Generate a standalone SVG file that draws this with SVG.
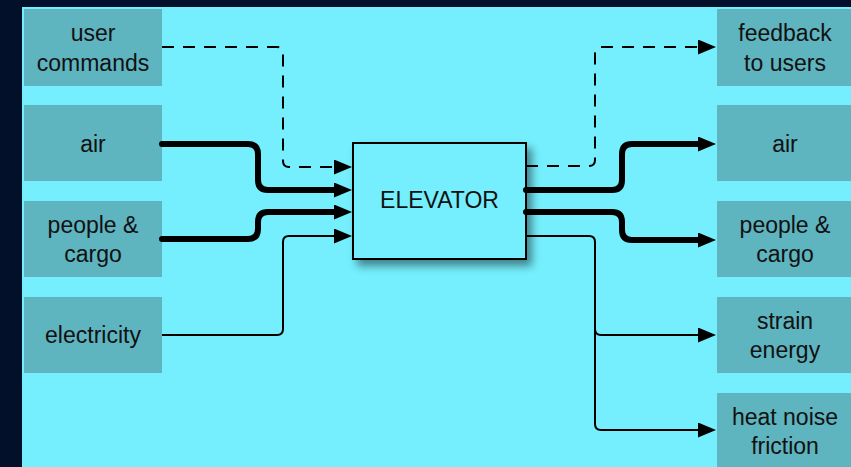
<svg xmlns="http://www.w3.org/2000/svg" width="851" height="467" viewBox="0 0 851 467">
<style>
.bx{fill:#5eb4bf}
.t{font-family:"Liberation Sans",Arial,sans-serif;font-size:23px;fill:#111;text-anchor:middle}
.c{fill:none;stroke:#000}
.thick{stroke-width:6;stroke-linecap:round}
.thin{stroke-width:2}
.dash{stroke-width:2;stroke-dasharray:12 9}
</style>
<defs>
<marker id="ah" markerUnits="userSpaceOnUse" markerWidth="18" markerHeight="15" refX="0" refY="7.5" orient="auto">
<path d="M0,0 L18,7.5 L0,15 z" fill="#000"/>
</marker>
<filter id="sh" x="-20%" y="-20%" width="140%" height="150%">
<feDropShadow dx="5" dy="6" stdDeviation="4" flood-color="#000" flood-opacity="0.45"/>
</filter>
</defs>
<rect width="851" height="467" fill="#021029"/>
<rect x="22" y="7" width="829" height="460" fill="#75effd"/>

<g id="in-user"><rect class="bx" x="24" y="9" width="138" height="77"/><text class="t" x="93" y="41">user</text><text class="t" x="93" y="71">commands</text></g>
<g id="in-air"><rect class="bx" x="24" y="105" width="138" height="76"/><text class="t" x="93" y="152">air</text></g>
<g id="in-people"><rect class="bx" x="24" y="201" width="138" height="76"/><text class="t" x="93" y="233">people &amp;</text><text class="t" x="93" y="262">cargo</text></g>
<g id="in-elec"><rect class="bx" x="24" y="297" width="138" height="76"/><text class="t" x="93" y="343">electricity</text></g>

<g id="out-feedback"><rect class="bx" x="717" y="9" width="134" height="77"/><text class="t" x="785" y="41">feedback</text><text class="t" x="785" y="71">to users</text></g>
<g id="out-air"><rect class="bx" x="717" y="105" width="134" height="76"/><text class="t" x="785" y="152">air</text></g>
<g id="out-people"><rect class="bx" x="717" y="201" width="134" height="76"/><text class="t" x="785" y="233">people &amp;</text><text class="t" x="785" y="262">cargo</text></g>
<g id="out-strain"><rect class="bx" x="717" y="297" width="134" height="76"/><text class="t" x="785" y="329">strain</text><text class="t" x="785" y="358">energy</text></g>
<g id="out-heat"><rect class="bx" x="717" y="393" width="134" height="80"/><text class="t" x="785" y="425">heat noise</text><text class="t" x="785" y="454">friction</text></g>

<g id="elevator"><rect x="353" y="143" width="173" height="116" fill="#75effd" stroke="#000" stroke-width="2" filter="url(#sh)"/><text class="t" x="439.5" y="208">ELEVATOR</text></g>

<g id="connectors">
<path class="c dash" d="M162,47 H277 Q283,47 283,53 V161 Q283,167 289,167 H334" marker-end="url(#ah)"/>
<path class="c thick" d="M162,144 H248 Q258,144 258,154 V180 Q258,190 268,190 H334" marker-end="url(#ah)"/>
<path class="c thick" d="M162,239 H248 Q258,239 258,229 V222 Q258,212 268,212 H334" marker-end="url(#ah)"/>
<path class="c thin" d="M162,335 H277 Q283,335 283,329 V242 Q283,236 289,236 H334" marker-end="url(#ah)"/>
<path class="c dash" d="M526,166 H589 Q595,166 595,160 V53 Q595,47 601,47 H698" marker-end="url(#ah)"/>
<path class="c thick" d="M526,190 H612 Q622,190 622,180 V154 Q622,144 632,144 H698" marker-end="url(#ah)"/>
<path class="c thick" d="M526,212 H612 Q622,212 622,222 V230 Q622,240 632,240 H698" marker-end="url(#ah)"/>
<path class="c thin" d="M526,236 H589 Q595,236 595,242 V424 Q595,430 601,430 H698" marker-end="url(#ah)"/>
<path class="c thin" d="M595,329 Q595,335 601,335 H698" marker-end="url(#ah)"/>
</g>
</svg>
